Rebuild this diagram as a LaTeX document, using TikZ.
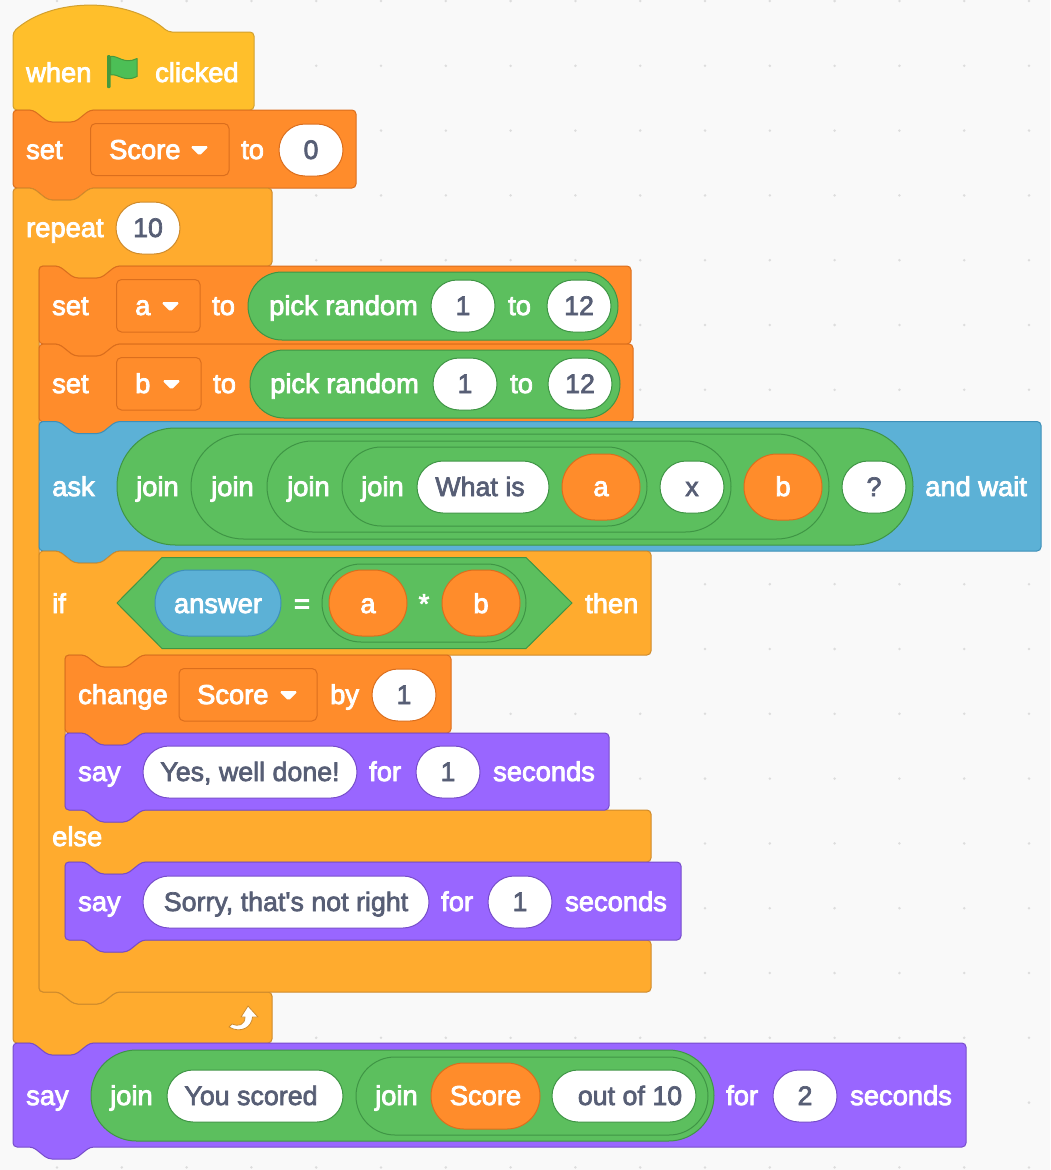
\documentclass[tikz,border=0pt]{standalone}
\usepackage{fontspec}
\newfontfamily\wfont{Liberation Sans}[RawFeature={embolden=3}]
\newfontfamily\inputfont{Liberation Sans}[RawFeature={embolden=2.5}]
\definecolor{bgc}{HTML}{F9F9F9}
\definecolor{dotc}{HTML}{DDDDDD}
\definecolor{yelF}{HTML}{FFBF2B}\definecolor{yelD}{HTML}{D2A02E}
\definecolor{ornF}{HTML}{FF8C2B}\definecolor{ornD}{HTML}{DB6E1D}
\definecolor{ctlF}{HTML}{FFAB2E}\definecolor{ctlD}{HTML}{CF8B2C}
\definecolor{bluF}{HTML}{5CB1D6}\definecolor{bluD}{HTML}{3D8FB8}
\definecolor{vioF}{HTML}{9966FF}\definecolor{vioD}{HTML}{774DCB}
\definecolor{grnF}{HTML}{5CBF5E}\definecolor{grnD}{HTML}{3F9545}
\definecolor{inpT}{HTML}{575E75}
\definecolor{flagF}{HTML}{4CBF56}\definecolor{flagD}{HTML}{45993D}
\newcounter{nc}
\tikzset{
  blk/.style={line width=1pt,rounded corners=4pt,line join=round},
  yel/.style={blk,fill=yelF,draw=yelD},
  orn/.style={blk,fill=ornF,draw=ornD},
  ctl/.style={blk,fill=ctlF,draw=ctlD},
  blu/.style={blk,fill=bluF,draw=bluD},
  vio/.style={blk,fill=vioF,draw=vioD},
  wlab/.style={text=white,inner sep=0pt,font=\fontsize{27.3}{30}\wfont},
  dlab/.style={text=inpT,inner sep=0pt,font=\fontsize{26.8}{30}\inputfont},
  greenpill/.style={fill=grnF,draw=grnD,line width=1pt},
  orangepill/.style={fill=ornF,draw=ornD,line width=1pt},
  bluepill/.style={fill=bluF,draw=bluD,line width=1pt},
  whitepill/.style={fill=white,draw=#1,line width=1pt},
}
% notch on a top edge, left to right, starting at the block's left edge
\newcommand\notchr{-- ++(20,0) -- ++(15,12) -- ++(27,0) -- ++(15,-12)}
% tab on a bottom edge, right to left, starting 77 from the left edge
\newcommand\tabl{-- ++(-15,12) -- ++(-27,0) -- ++(-15,-12)}
\newcommand\stack[5]{\draw[#1] (#2,#3+25) -- (#2,#3) \notchr -- (#4,#3) -- (#4,#5) -- (#2+77,#5) \tabl -- (#2,#5) -- cycle;}
\newcommand\pilldy{9}
\newcommand\pilldx{0}
\newcommand\shapepill[6]{%
  \pgfmathsetmacro\myr{(#5-#3)/2-0.01}%
  \draw[#1,rounded corners=\myr pt] (#2,#3) rectangle (#4,#5);%
  \pgfmathsetmacro\myx{(#2+#4)/2+\pilldx}\pgfmathsetmacro\myy{(#3+#5)/2+\pilldy}%
  \stepcounter{nc}%
  \node[#6,anchor=base] (n\thenc) at (\myx,\myy) {\pillstr};}
\newcommand\pillstr{}
\newcommand\wpill[6]{\renewcommand\pillstr{#6}\shapepill{whitepill=#1}{#2}{#3}{#4}{#5}{dlab}}
\newcommand\opill[5]{\renewcommand\pillstr{#5}\shapepill{orangepill}{#1}{#2}{#3}{#4}{wlab}}
\newcommand\gpill[4]{\pgfmathsetmacro\myr{(#4-#2)/2-0.01}\draw[greenpill,rounded corners=\myr pt] (#1,#2) rectangle (#3,#4);}
\newcommand\tl[3]{\stepcounter{nc}\node[wlab,anchor=base west] (n\thenc) at (#1,#2+9) {#3};}
\newcommand\tc[3]{\stepcounter{nc}\node[wlab,anchor=base] (n\thenc) at (#1,#2+9) {#3};}
\newcommand\tri[2]{\fill[white,draw=white,line width=1pt,line join=round,rounded corners=1.5pt] (#1,#2-3.5) -- (#1+17,#2-3.5) -- (#1+8.5,#2+5) -- cycle;}
\newcommand\dropd[5]{\draw[#1,rounded corners=5pt] (#2,#3) rectangle (#4,#5);}
\begin{document}
\begin{tikzpicture}[x=1pt,y=-1pt]
\useasboundingbox (0,0) rectangle (1050,1170);
\fill[bgc] (0,0) rectangle (1050,1170);
\foreach \i in {0,...,15}{\foreach \j in {0,...,18}{\fill[dotc] (57+64.8*\i,1+64.8*\j) circle (1.4);}}
% hat
\draw[yel] (13,60) -- (13,32) .. controls (53,-3) and (128,-3) .. (168,32) -- (254,32) -- (254,110) -- (90,110) \tabl -- (13,110) -- cycle;
\tl{26}{73}{when}
\draw[flagD,fill=flagF,line width=1pt,line join=round] (110.5,56.5) .. controls (118,55) and (124,65) .. (137,58.5) -- (137,76.5) .. controls (124,83) and (118,73) .. (110.5,75) -- cycle;
\fill[flagD,rounded corners=1pt] (107,55) rectangle (110.5,88);
\tl{155}{73}{clicked}
% set score
\stack{orn}{13}{110}{356}{188}
\tl{26}{150}{set}
\dropd{orn}{90.5}{123.5}{229}{175.5}
\tl{109}{150}{Score}\tri{191}{150}
\tl{241}{150}{to}
\wpill{ornD}{279}{124}{343}{176}{0}
% repeat
\draw[ctl] (13,213) -- (13,188) \notchr -- (272,188) -- (272,266) -- (116,266) \tabl -- (39,266) -- (39,992) \notchr -- (272,992) -- (272,1043) -- (90,1043) \tabl -- (13,1043) -- cycle;
\tl{26}{228}{repeat}
\wpill{ctlD}{116}{202}{180}{254}{10}
% set a
\stack{orn}{39}{266}{631}{344}
\tl{52}{306}{set}
\dropd{orn}{116.5}{279.5}{200}{332}
\tl{135}{306}{a}\tri{162}{306}
\tl{212}{306}{to}
\gpill{248}{272}{618}{340}
\tl{269}{306}{pick random}
\wpill{grnD}{431}{280}{495}{332}{1}
\tl{508}{306}{to}
\wpill{grnD}{547}{280}{611}{332}{12}
% set b
\stack{orn}{39}{344}{633}{422}
\tl{52}{384}{set}
\dropd{orn}{116.5}{357.5}{201}{410}
\tl{135}{384}{b}\tri{163}{384}
\tl{213}{384}{to}
\gpill{250}{350}{620}{418}
\tl{270}{384}{pick random}
\wpill{grnD}{433}{358}{497}{410}{1}
\tl{510}{384}{to}
\wpill{grnD}{548}{358}{612}{410}{12}
% ask
\stack{blu}{39}{421.5}{1041}{551}
\tl{52}{487}{ask}
\gpill{117}{428}{913}{545}
\tl{136}{487}{join}
\gpill{191}{434}{829}{539}
\tl{211}{487}{join}
\gpill{267}{441}{731}{532}
\tl{287}{487}{join}
\gpill{342}{447}{647}{526}
\tl{361}{487}{join}
\renewcommand\pilldx{-3}
\wpill{grnD}{417}{461}{549}{513}{What is}
\renewcommand\pilldx{0}
\opill{562}{454}{640}{520}{a}
\wpill{grnD}{660}{461}{724}{513}{x}
\opill{744}{454}{822}{520}{b}
\wpill{grnD}{842}{461}{906}{513}{?}
\tl{925}{487}{and wait}
% if
\draw[ctl] (39,576) -- (39,551) \notchr -- (651,551) -- (651,655) -- (142,655) \tabl -- (65,655) -- (65,810) \notchr -- (651,810) -- (651,862) -- (142,862) \tabl -- (65,862) -- (65,940) \notchr -- (651,940) -- (651,992) -- (116,992) \tabl -- (39,992) -- cycle;
\tl{52}{604}{if}
\draw[greenpill,line join=round] (117,603) -- (162,557.5) -- (526,557.5) -- (572,603) -- (526,648.5) -- (162,648.5) -- cycle;
\renewcommand\pilldy{10}
\renewcommand\pillstr{answer}\shapepill{bluepill}{155}{570}{281}{636}{wlab}
\tc{302}{604}{=}
\gpill{322}{564}{526}{642}
\opill{329}{570}{407}{636}{a}
\tc{424}{604}{*}
\opill{442}{570}{520}{636}{b}
\renewcommand\pilldy{9}
\tl{585}{604}{then}
\tl{52}{837}{else}
% change
\stack{orn}{65}{655}{451}{733}
\tl{78}{695}{change}
\dropd{orn}{179}{668.5}{317}{721}
\tl{197}{695}{Score}\tri{280}{695}
\tl{330}{695}{by}
\wpill{ornD}{372}{669}{436}{721}{1}
% say 1
\stack{vio}{65}{733}{609}{810}
\tl{78}{772}{say}
\wpill{vioD}{143}{746}{357}{798}{Yes, well done!}
\tl{369}{772}{for}
\wpill{vioD}{416}{746}{480}{798}{1}
\tl{493}{772}{seconds}
% say 2
\stack{vio}{65}{862}{681}{940}
\tl{78}{902}{say}
\wpill{vioD}{143}{876}{429}{928}{Sorry, that's not right}
\tl{441}{902}{for}
\wpill{vioD}{488}{876}{552}{928}{1}
\tl{565}{902}{seconds}
% loop arrow
\draw[ctlD,fill=white,line width=.8pt,line join=round] (248,1006) -- (258,1017) -- (252.5,1017) .. controls (252,1027) and (241,1034) .. (229,1027) -- (232,1024) .. controls (238,1027) and (245,1025) .. (245,1017) -- (241,1017) -- cycle;
% say final
\stack{vio}{13}{1043}{966}{1147}
\tl{26}{1096}{say}
\gpill{91}{1050}{714}{1141}
\tl{110}{1096}{join}
\renewcommand\pilldx{-4}
\wpill{grnD}{167}{1070}{343}{1122}{You scored}
\renewcommand\pilldx{0}
\gpill{356}{1057}{708}{1135}
\tl{375}{1096}{join}
\opill{431}{1063}{540}{1129}{Score}
\renewcommand\pilldx{6}
\wpill{grnD}{552}{1070}{696}{1122}{out of 10}
\renewcommand\pilldx{0}
\tl{726}{1096}{for}
\wpill{vioD}{773}{1070}{837}{1122}{2}
\tl{850}{1096}{seconds}
\end{tikzpicture}
\end{document}
